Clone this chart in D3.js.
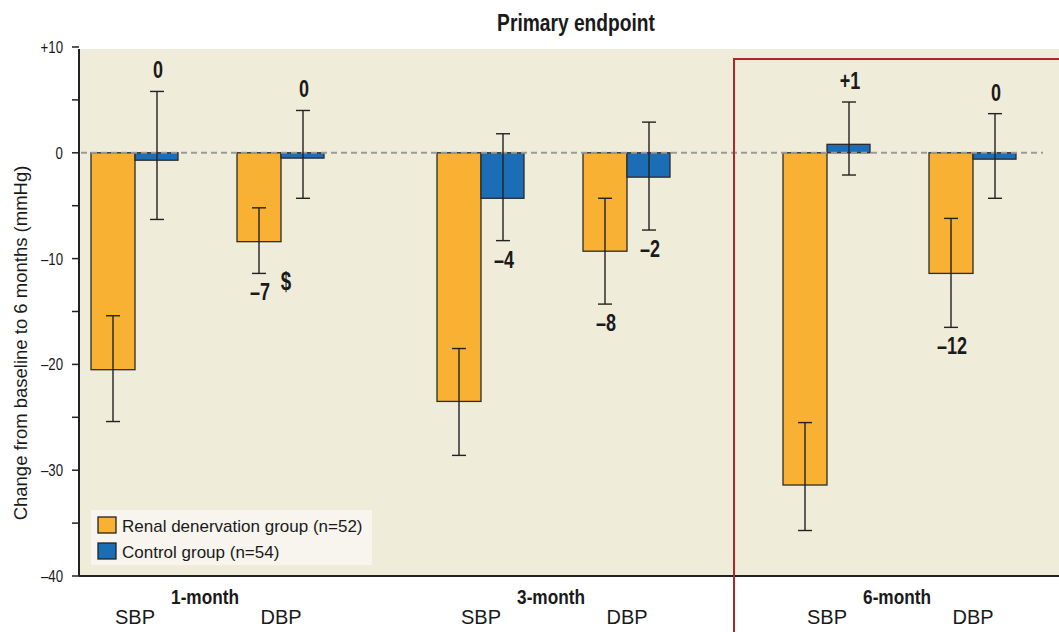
<!DOCTYPE html>
<html>
<head>
<meta charset="utf-8">
<script src="https://cdn.jsdelivr.net/npm/d3@7"></script>
<style>
  body { margin: 0; background: #fff; }
  svg { display: block; }
  text { font-family: "Liberation Sans", Arial, sans-serif; fill: #1a1a1a; }
</style>
</head>
<body>
<div id="chart"></div>
<script>
'use strict';

// data
const periods = ["1-month", "3-month", "6-month"];
const measures = ["SBP", "DBP"];
const groups = ["Renal denervation group (n=52)", "Control group (n=54)"];

// mean change, one entry per period x measure (1m SBP, 1m DBP, 3m SBP, ...)
const rdnMean = [-20.5, -8.4, -23.5, -9.3, -31.4, -11.4];
const rdnLow  = [-25.4, -11.4, -28.6, -14.3, -35.7, -16.5];
const rdnHigh = [-15.4, -5.2, -18.5, -4.3, -25.5, -6.2];
const ctlMean = [-0.7, -0.5, -4.3, -2.3, 0.8, -0.6];
const ctlLow  = [-6.3, -4.3, -8.3, -7.3, -2.1, -4.3];
const ctlHigh = [5.8, 4.0, 1.8, 2.9, 4.8, 3.7];
const rdnLabels = [null, "\u20137", null, "\u20138", null, "\u201312"];
const ctlLabels = ["0", "0", "\u20134", "\u20132", "+1", "0"];
const yTicks = [10, 5, 0, -5, -10, -15, -20, -25, -30, -35, -40];
const yTickLabels = { "10": "+10", "0": "0", "-10": "\u201310", "-20": "\u201320", "-30": "\u201330", "-40": "\u201340" };

const width = 1059;
const height = 632;
const plot = { left: 79, right: 1059, top: 49, bottom: 576 };
const colors = { rdn: "#F8B133", ctl: "#1B6DB5", bg: "#F0ECDA", red: "#B0272B" };
const barW = 44;

const svg = d3.select("#chart")
    .append("svg")
    .attr("width", width)
    .attr("height", height);

const y = d3.scaleLinear().domain([-40, 10]).range([plot.bottom, 47]);
const xPeriod = d3.scalePoint().domain(periods).range([208, 900]);
const xMeasure = d3.scalePoint().domain(measures).range([-73, 73]);

// squeeze text horizontally to mimic the condensed face of the original
function squeeze(sel, fx, fy, s) {
    return sel.attr("transform", (d, i) => `translate(${fx(d, i)},${fy(d, i)}) scale(${s},1)`);
}

const rows = [];
periods.forEach((p, i) => {
    measures.forEach((m, j) => {
        const k = i * measures.length + j;
        const cx = xPeriod(p) + xMeasure(m);
        rows.push({ g: "rdn", x0: cx - barW, v: rdnMean[k], lo: rdnLow[k], hi: rdnHigh[k], label: rdnLabels[k] });
        rows.push({ g: "ctl", x0: cx, v: ctlMean[k], lo: ctlLow[k], hi: ctlHigh[k], label: ctlLabels[k] });
    });
});

// plot background
svg.append("rect")
    .attr("x", plot.left).attr("y", plot.top)
    .attr("width", plot.right - plot.left).attr("height", plot.bottom - plot.top)
    .attr("fill", colors.bg);

// title
squeeze(svg.append("text").datum(0), () => 576, () => 31, 0.8)
    .attr("text-anchor", "middle")
    .attr("font-size", 24).attr("font-weight", "bold")
    .text("Primary endpoint");

// bars
svg.append("g").selectAll("rect")
    .data(rows)
    .join("rect")
    .attr("x", d => d.x0)
    .attr("y", d => y(Math.max(0, d.v)))
    .attr("width", d => d.g === "rdn" ? barW : barW - 1)
    .attr("height", d => Math.abs(y(d.v) - y(0)))
    .attr("fill", d => colors[d.g])
    .attr("stroke", "#2b2b2b")
    .attr("stroke-width", 1.3);

// zero line
svg.append("path")
    .attr("stroke", "#9a9a9a")
    .attr("stroke-width", 2)
    .attr("stroke-dasharray", "6,4")
    .attr("d", d3.line()([[plot.left + 2, y(0)], [1043, y(0)]]));

// error bars
const err = svg.append("g").attr("stroke", "#222").attr("stroke-width", 1.4);
rows.forEach(d => {
    const cx = d.x0 + barW / 2;
    err.append("path").attr("d", d3.line()([[cx, y(d.hi)], [cx, y(d.lo)]]));
    err.append("path").attr("d", d3.line()([[cx - 7, y(d.hi)], [cx + 7, y(d.hi)]]));
    err.append("path").attr("d", d3.line()([[cx - 7, y(d.lo)], [cx + 7, y(d.lo)]]));
});

// value labels
squeeze(svg.append("g").selectAll("text")
    .data(rows.filter(d => d.label))
    .join("text"),
    d => d.x0 + barW / 2 + 1,
    d => d.label.startsWith("\u2013") ? y(d.lo) + 27 : y(d.hi) - 13,
    0.75)
    .attr("text-anchor", "middle")
    .attr("font-size", 24).attr("font-weight", "bold")
    .text(d => d.label);

const dbp1 = rows[2];
squeeze(svg.append("text").datum(dbp1), d => d.x0 + barW + 5, d => y(d.lo) + 17, 0.75)
    .attr("text-anchor", "middle")
    .attr("font-size", 25).attr("font-weight", "bold")
    .text("$");

// y axis
const yAxis = svg.append("g");
yAxis.append("path")
    .attr("stroke", "#222").attr("stroke-width", 2)
    .attr("d", d3.line()([[plot.left, plot.top], [plot.left, plot.bottom]]));
yAxis.selectAll("line")
    .data(yTicks)
    .join("line")
    .attr("x1", plot.left - 7).attr("x2", plot.left)
    .attr("y1", d => y(d)).attr("y2", d => y(d))
    .attr("stroke", "#222").attr("stroke-width", 1.5);
squeeze(yAxis.selectAll("text")
    .data(yTicks.filter(d => yTickLabels[d] !== undefined))
    .join("text"),
    () => plot.left - 16, d => y(d) + 6, 0.78)
    .attr("text-anchor", "end")
    .attr("font-size", 17)
    .text(d => yTickLabels[d]);

svg.append("text")
    .attr("transform", "translate(27,343) rotate(-90)")
    .attr("text-anchor", "middle")
    .attr("font-size", 18.5)
    .text("Change from baseline to 6 months (mmHg)");

// x axis line
svg.append("path")
    .attr("stroke", "#222").attr("stroke-width", 2)
    .attr("d", d3.line()([[plot.left, plot.bottom], [plot.right, plot.bottom]]));

// x labels
squeeze(svg.append("g").selectAll("text")
    .data(periods)
    .join("text"),
    d => xPeriod(d) - 3, () => 604, 0.82)
    .attr("text-anchor", "middle")
    .attr("font-size", 21).attr("font-weight", "bold")
    .text(d => d);

const subLabels = [];
periods.forEach(p => measures.forEach(m => subLabels.push({ p, m })));
svg.append("g").selectAll("text")
    .data(subLabels)
    .join("text")
    .attr("x", d => xPeriod(d.p) + xMeasure(d.m))
    .attr("y", 624)
    .attr("text-anchor", "middle")
    .attr("font-size", 20)
    .text(d => d.m);

// highlight box around 6-month
svg.append("rect")
    .attr("x", 734).attr("y", 59)
    .attr("width", 400).attr("height", 700)
    .attr("fill", "none")
    .attr("stroke", colors.red).attr("stroke-width", 2);

// legend
const legend = svg.append("g").attr("transform", "translate(91,510)");
legend.append("rect")
    .attr("width", 281).attr("height", 55)
    .attr("fill", "#F7F5EE");
legend.selectAll("g")
    .data(groups)
    .join("g")
    .attr("transform", (d, i) => `translate(7,${7 + i * 26})`)
    .each(function (d, i) {
        const g = d3.select(this);
        g.append("rect")
            .attr("width", 18).attr("height", 16)
            .attr("fill", i === 0 ? colors.rdn : colors.ctl)
            .attr("stroke", "#222").attr("stroke-width", 1.3);
        g.append("text")
            .attr("x", 24).attr("y", 15)
            .attr("font-size", 17)
            .text(d);
    });
</script>
</body>
</html>
